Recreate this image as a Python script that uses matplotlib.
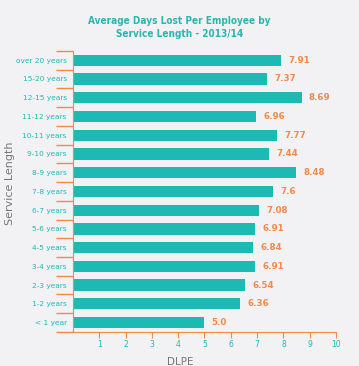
import matplotlib
matplotlib.use('Agg')
import matplotlib.pyplot as plt
import numpy as np

categories = ['over 20 years', '15-20 years', '12-15 years', '11-12 years', '10-11 years',
              '9-10 years', '8-9 years', '7-8 years', '6-7 years', '5-6 years',
              '4-5 years', '3-4 years', '2-3 years', '1-2 years', '< 1 year']
values = [7.91, 7.37, 8.69, 6.96, 7.77, 7.44, 8.48, 7.6, 7.08, 6.91, 6.84, 6.91, 6.54, 6.36, 5.0]
labels = ['7.91', '7.37', '8.69', '6.96', '7.77', '7.44', '8.48', '7.6', '7.08', '6.91',
          '6.84', '6.91', '6.54', '6.36', '5.0']

teal = '#1dbab3'
orange = '#f08a4b'
bg = '#f2f2f4'
gray = '#777777'

fig = plt.figure(figsize=(3.59, 3.66), dpi=100, facecolor=bg)
ax = fig.add_axes([0.203, 0.093, 0.733, 0.768], facecolor=bg)

y = np.arange(len(categories))[::-1]
ax.barh(y, values, height=0.6, color=teal)
for yi, v, lab in zip(y, values, labels):
    ax.text(v + 0.28, yi, lab, color=orange, fontsize=6.3, fontweight='bold', va='center')

ax.set_xlim(0, 10)
ax.set_ylim(-0.5, len(categories) - 0.5)
ax.set_xticks(range(1, 11))
ax.set_yticks(y)
ax.set_yticklabels(categories)
ax.set_yticks(np.arange(-0.5, len(categories)), minor=True)

ax.tick_params(axis='y', which='major', length=0, colors=teal, labelsize=5.3, pad=4.5)
ax.tick_params(axis='y', which='minor', length=12, color=orange, width=1)
ax.tick_params(axis='x', which='major', length=4, color=orange, labelcolor=teal, labelsize=5.5, pad=2)

for s in ['top', 'right']:
    ax.spines[s].set_visible(False)
for s in ['left', 'bottom']:
    ax.spines[s].set_color(orange)

ax.set_xlabel('DLPE', color=gray, fontsize=7.5)
ax.xaxis.set_label_coords(0.407, -0.09)
ax.set_ylabel('Service Length', color=gray, fontsize=8)
ax.yaxis.set_label_coords(-0.22, 0.53)

fig.text(0.5, 0.955, 'Average Days Lost Per Employee by\nService Length - 2013/14',
         ha='center', va='top', color='#2ab5ad', fontsize=7.2, fontweight='bold',
         fontstretch='condensed', linespacing=1.3)

fig.savefig('out.png', dpi=100, facecolor=bg)
